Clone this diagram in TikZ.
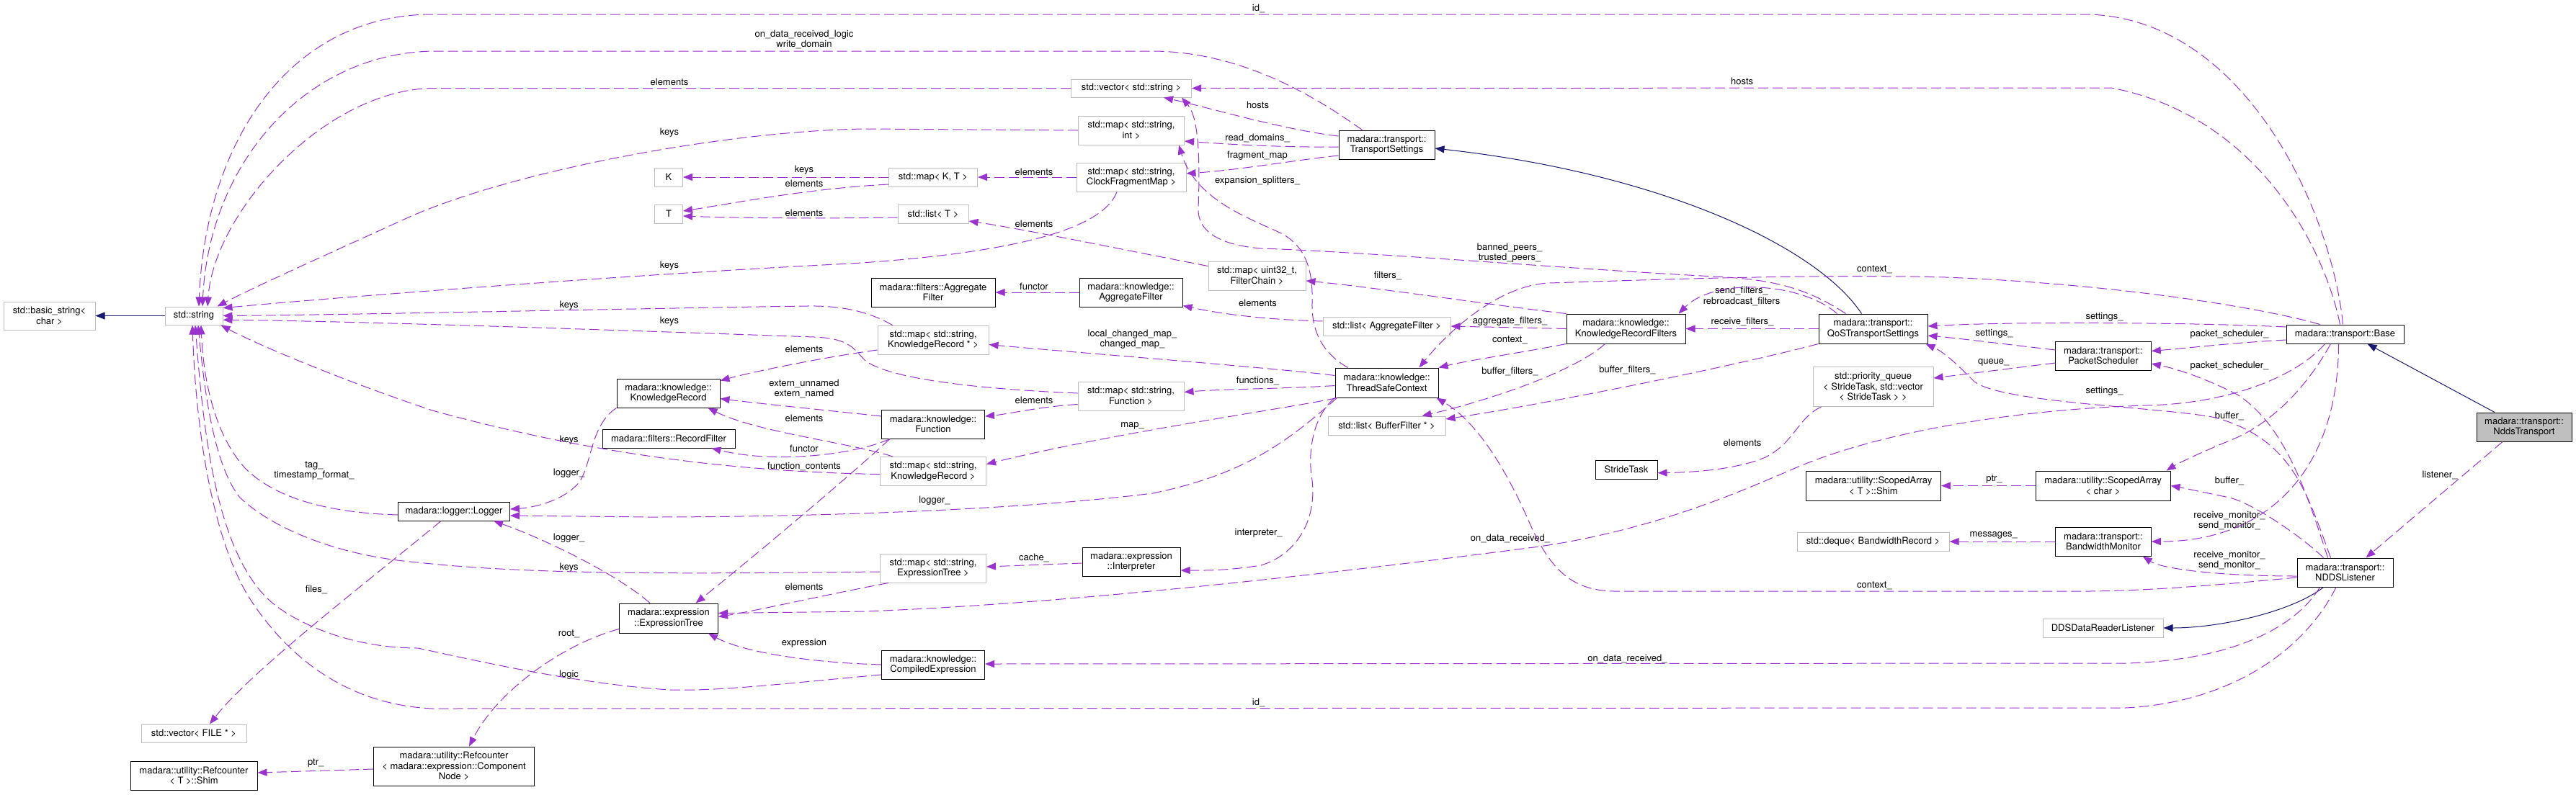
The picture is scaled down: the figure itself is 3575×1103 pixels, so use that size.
\documentclass[tikz,border=0pt]{standalone}
\usepackage{fontspec}
\setmainfont{TeX Gyre Heros}
\usetikzlibrary{arrows.meta}
\definecolor{usecol}{HTML}{9A32CD}
\definecolor{inhcol}{HTML}{191970}
\definecolor{extcol}{HTML}{BFBFBF}
\tikzset{
    box/.style={
        rectangle,
        draw=black,
        fill=white,
        line width=1pt,
        align=center,
        inner sep=0pt,
        font=\fontsize{13}{14.6}\selectfont
    },
    cls/.style={box},
    ext/.style={box,draw=extcol},
    hit/.style={box,fill=extcol},
    use/.style={
        draw=usecol,
        line width=1pt,
        dash pattern=on 14pt off 6pt,
        -{Triangle[length=13pt,width=10pt]}
    },
    inh/.style={
        draw=inhcol,
        line width=1pt,
        -{Triangle[length=13pt,width=10pt]}
    },
    lbl/.style={font=\fontsize{13}{14.6}\selectfont,align=center,inner sep=0pt}
}
% style, name, x, y, width, height, text
\newcommand{\klass}[7]{
    \node[#1,minimum width=#5pt,minimum height=#6pt] (#2) at (#3,#4) {#7};
}
\begin{document}
\begin{tikzpicture}[x=1pt,y=-1pt]
    \useasboundingbox (0,0) rectangle (3575,1103);

    % classes
    \klass{ext}{bstr}{68.5}{438.5}{127}{39}{std::basic\_string<\\char >}
    \klass{ext}{str}{269}{438.5}{80}{25}{std::string}
    \klass{ext}{vfile}{269}{1018.5}{146}{25}{std::vector< FILE * >}
    \klass{cls}{rshim}{269}{1077}{176}{40}{madara::utility::Refcounter\\< T >::Shim}
    \klass{cls}{logger}{630}{710}{155}{26}{madara::logger::Logger}
    \klass{cls}{rcomp}{630}{1064}{223}{54}{madara::utility::Refcounter\\< madara::expression::Component\\Node >}
    \klass{ext}{K}{928}{246}{39}{26}{K}
    \klass{ext}{T}{928}{297}{39}{26}{T}
    \klass{cls}{krec}{927.5}{546}{143}{40}{madara::knowledge::\\KnowledgeRecord}
    \klass{cls}{rfilt}{928}{609}{184}{26}{madara::filters::RecordFilter}
    \klass{cls}{etree}{928}{858.5}{137}{41}{madara::expression\\::ExpressionTree}
    \klass{ext}{mapkt}{1295}{246}{123}{26}{std::map< K, T >}
    \klass{ext}{listt}{1295}{297}{98}{26}{std::list< T >}
    \klass{cls}{aggf}{1295}{406}{172}{40}{madara::filters::Aggregate\\Filter}
    \klass{ext}{mapkrp}{1295}{472}{154}{40}{std::map< std::string,\\KnowledgeRecord * >}
    \klass{cls}{kfn}{1295}{589}{143}{40}{madara::knowledge::\\Function}
    \klass{ext}{mapkr}{1295}{654.5}{147}{40}{std::map< std::string,\\KnowledgeRecord >}
    \klass{ext}{mapet}{1295}{789}{147}{40}{std::map< std::string,\\ExpressionTree >}
    \klass{cls}{cexpr}{1295}{923}{143}{40}{madara::knowledge::\\CompiledExpression}
    \klass{ext}{vstr}{1570}{122.5}{167}{25}{std::vector< std::string >}
    \klass{ext}{mapsi}{1570}{181}{147}{40}{std::map< std::string,\\int >}
    \klass{ext}{cfmap}{1570}{246}{152}{40}{std::map< std::string,\\ClockFragmentMap >}
    \klass{cls}{kaggf}{1569.5}{406}{143}{40}{madara::knowledge::\\AggregateFilter}
    \klass{ext}{mapfn}{1569.5}{550}{147}{40}{std::map< std::string,\\Function >}
    \klass{cls}{interp}{1570}{780}{136}{40}{madara::expression\\::Interpreter}
    \klass{ext}{mapfc}{1744.5}{383}{135}{40}{std::map< uint32\_t,\\FilterChain >}
    \klass{cls}{tset}{1924.5}{201}{133}{40}{madara::transport::\\TransportSettings}
    \klass{ext}{laggf}{1924.5}{453}{177}{26}{std::list< AggregateFilter >}
    \klass{cls}{tsc}{1924.5}{531.5}{143}{41}{madara::knowledge::\\ThreadSafeContext}
    \klass{ext}{lbf}{1924.5}{591}{163}{26}{std::list< BufferFilter * >}
    \klass{cls}{krf}{2256.5}{456.5}{165}{41}{madara::knowledge::\\KnowledgeRecordFilters}
    \klass{cls}{stride}{2257}{652}{86}{26}{StrideTask}
    \klass{cls}{qos}{2599.5}{456.5}{151}{41}{madara::transport::\\QoSTransportSettings}
    \klass{ext}{pq}{2599.5}{537}{167}{55}{std::priority\_queue\\< StrideTask, std::vector\\< StrideTask > >}
    \klass{cls}{sashim}{2600}{674.5}{187}{41}{madara::utility::ScopedArray\\< T >::Shim}
    \klass{ext}{deque}{2599.5}{752}{211}{26}{std::deque< BandwidthRecord >}
    \klass{cls}{ps}{2919}{494}{132.5}{40}{madara::transport::\\PacketScheduler}
    \klass{cls}{sachar}{2918.5}{674.5}{187}{41}{madara::utility::ScopedArray\\< char >}
    \klass{cls}{bwm}{2919}{752}{132.5}{40}{madara::transport::\\BandwidthMonitor}
    \klass{ext}{dds}{2918.5}{872}{167}{26}{DDSDataReaderListener}
    \klass{cls}{base}{3254.5}{464}{163}{26}{madara::transport::Base}
    \klass{cls}{ndl}{3254.5}{795}{133}{40}{madara::transport::\\NDDSListener}
    \klass{hit}{ndds}{3503}{593}{132}{40}{madara::transport::\\NddsTransport}

    % edge labels
    \foreach \nm/\px/\py/\txt in {
        lida/1746.6/12/{id\_},
        lodl/1116/55/{on\_data\_received\_logic\\write\_domain},
        lela/929/114/{elements},
        lhoa/2417.6/112.5/{hosts},
        lhob/1745.5/146/{hosts},
        lkea/929/184/{keys},
        lrdm/1745/192/{read\_domains\_},
        lfrm/1745/216/{fragment\_map},
        lkeb/1116/236/{keys},
        lelb/1435/239/{elements},
        lexs/1745/251/{expansion\_splitters\_},
        lelc/1116/255/{elements},
        leld/1116/296/{elements},
        lele/1435/311/{elements},
        lban/2095/351/{banned\_peers\_\\trusted\_peers\_},
        lkec/929/369/{keys},
        lcoa/2601.4/374/{context\_},
        lfil/1926/383/{filters\_},
        lfua/1435/398/{functor},
        lsnd/2417/411.5/{send\_filters\_\\rebroadcast\_filters},
        lelf/1745.5/421/{elements},
        lked/789.6/424/{keys},
        lsea/2920.5/440/{settings\_},
        lkee/929/446/{keys},
        lagg/2095.5/446/{aggregate\_filters\_},
        lrcv/2418/447/{receive\_filters\_},
        lpsa/3094/464/{packet\_scheduler\_},
        lseb/2767.5/463.6/{settings\_},
        llcm/1571.5/471/{local\_changed\_map\_\\changed\_map\_},
        lcob/2095.5/472.5/{context\_},
        lelg/1116/485/{elements},
        lque/2766.7/503/{queue\_},
        lpsb/3094/508/{packet\_scheduler\_},
        lbfa/2095.5/516/{buffer\_filters\_},
        lbfb/2258.5/514/{buffer\_filters\_},
        lfns/1745.5/528.6/{functions\_},
        lext/1116/540/{extern\_unnamed\\extern\_named},
        lsec/2920.5/543/{settings\_},
        lelh/1435/556/{elements},
        lbua/3094/578/{buffer\_},
        leli/1116/581/{elements},
        lmap/1571.5/591/{map\_},
        lkef/789.6/611/{keys},
        lelj/2418/615/{elements},
        lfub/1116/623/{functor},
        lfco/1116/648/{function\_contents},
        ltag/436/653.5/{tag\_\\timestamp\_format\_},
        lloa/789.6/657/{logger\_},
        llis/3386/660/{listener\_},
        lpta/2767.5/666/{ptr\_},
        lbub/3094/667.5/{buffer\_},
        llob/1297/695/{logger\_},
        lrma/3094/723/{receive\_monitor\_\\send\_monitor\_},
        lint/1746.6/740/{interpreter\_},
        lmsg/2766.7/743.6/{messages\_},
        lloc/789.6/747/{logger\_},
        loda/2096/747.5/{on\_data\_received\_},
        lcac/1435/774.5/{cache\_},
        lrmb/3094/778/{receive\_monitor\_\\send\_monitor\_},
        lkeg/789.6/788/{keys},
        lcoc/2601.4/813/{context\_},
        lelk/1116/815/{elements},
        lfls/439/819/{files\_},
        lroo/789.6/880/{root\_},
        lexp/1116/893/{expression},
        lodb/2258.5/914.5/{on\_data\_received\_},
        llog/789.6/937/{logic},
        lidb/1746.6/976/{id\_},
        lptb/440/1060/{ptr\_}
    }
        \node[lbl] (\nm) at (\px,\py) {\txt};

    % members pointing at std::string
    \draw[use] ([xshift=-3]base.north) .. controls (3237,300) and (3120,28) .. (2900,20) -- (600,20) .. controls (400,20) and (285,200) .. ([xshift=7]str.north);
    \draw[use] ([xshift=-34]tset.north) .. controls (1820,130) and (1720,72) .. (1600,71) -- (600,71) .. controls (420,75) and (290,230) .. ([xshift=12]str.north);
    \draw[use] (vstr.west) -- (600,122.5) .. controls (450,125) and (297,295) .. ([xshift=19]str.north);
    \draw[use] (mapsi.west) -- (1200,179) .. controls (1000,182) and (700,240) .. (560,305) .. controls (450,355) and (350,400) .. ([xshift=-8]str.north east);
    \draw[use] ([xshift=-20]cfmap.south) .. controls (1530,320) and (1400,352) .. (1180,366) .. controls (900,380) and (500,410) .. (str.15);
    \draw[use] ([xshift=21]mapkrp.north west) .. controls (1215,438) and (1180,424) .. (1120,425) .. controls (900,428) and (500,437) .. (str.east);
    \draw[use] ([yshift=4]mapfn.west) .. controls (1350,540) and (1230,525) .. (1200,500) .. controls (1185,485) and (1180,470) .. (1130,468) .. controls (900,460) and (500,446) .. (str.-8);
    \draw[use] ([yshift=-4]mapkr.west) .. controls (1000,655) and (800,625) .. (600,570) .. controls (480,530) and (360,480) .. ([xshift=-3]str.south east);
    \draw[use] ([yshift=-5]logger.west) .. controls (450,712) and (380,690) .. (340,650) .. controls (295,600) and (282,520) .. ([xshift=10]str.south);
    \draw[use] ([yshift=-5]mapet.west) .. controls (1000,796) and (750,800) .. (580,781) .. controls (470,772) and (380,735) .. (333,691) .. controls (300,650) and (285,560) .. ([xshift=6]str.south);
    \draw[use] ([yshift=-14]cexpr.west) .. controls (1100,948) and (1000,960) .. (930,958) .. controls (800,950) and (650,915) .. (580,900) .. controls (480,900) and (400,860) .. (370,830) .. controls (300,760) and (282,600) .. ([xshift=2]str.south);
    \draw[use] ([xshift=-12.5]ndl.south) .. controls (3200,900) and (3100,975) .. (2950,983) -- (600,984) .. controls (470,978) and (390,900) .. (344,827) .. controls (295,745) and (272,600) .. ([xshift=-2]str.south);
    \draw[inh] (str.west) -- (bstr.east);

    % containers
    \draw[use] (mapkt.west) -- (K.east);
    \draw[use] ([yshift=-10]mapkt.west) .. controls (1120,262) and (1020,282) .. ([yshift=4]T.east);
    \draw[use] ([yshift=-5]listt.west) .. controls (1100,304) and (1000,302) .. ([yshift=-3]T.east);
    \draw[use] (cfmap.west) -- (mapkt.east);
    \draw[use] ([yshift=-7]mapfc.north west) .. controls (1550,345) and (1420,318) .. ([yshift=-10]listt.east);
    \draw[use] (krf.north west) .. controls (2080,425) and (1900,398) .. ([yshift=-7]mapfc.east);
    \draw[use] (kaggf.west) -- (aggf.east);
    \draw[use] ([yshift=7]laggf.west) .. controls (1760,444) and (1700,437) .. ([yshift=2]kaggf.south east);
    \draw[use] (krf.west) -- (laggf.east);
    \draw[use] (krf.south west) .. controls (2110,490) and (2040,500) .. (tsc.north east);
    \draw[use] ([xshift=-29]krf.south) .. controls (2180,520) and (2050,560) .. ([xshift=49]lbf.north);

    % QoS settings
    \draw[use] (qos.south west) .. controls (2400,510) and (2150,560) .. ([yshift=9]lbf.east);
    \draw[use] (qos.west) -- (krf.east);
    \draw[use] ([xshift=-50]qos.north) .. controls (2500,392) and (2380,385) .. ([xshift=-10]krf.north east);
    \draw[inh] ([xshift=-16]qos.north) .. controls (2520,340) and (2300,240) .. ([yshift=-5]tset.east);
    \draw[use] ([xshift=-38]qos.north) .. controls (2500,395) and (2450,388) .. (2380,384) .. controls (2200,375) and (1900,350) .. (1750,345) .. controls (1690,340) and (1662,320) .. (1663,290) .. controls (1665,230) and (1665,165) .. ([xshift=-14]vstr.south east);
    \draw[use] ([yshift=8]ps.west) .. controls (2800,480) and (2720,470) .. ([yshift=-9.5]qos.east);
    \draw[use] ([yshift=-10]ps.west) -- ([yshift=12]pq.east);
    \draw[use] ([xshift=-72]pq.south) .. controls (2495,580) and (2490,615) .. (2450,635) .. controls (2410,652) and (2350,656) .. ([yshift=-4.7]stride.east);
    \draw[use] (sachar.west) -- (sashim.east);
    \draw[use] (bwm.west) -- (deque.east);

    % transport settings
    \draw[use] ([yshift=12]tset.west) .. controls (1780,180) and (1680,150) .. ([xshift=45]vstr.south);
    \draw[use] ([yshift=-3]tset.west) .. controls (1780,205) and (1700,200) .. ([yshift=-15]mapsi.east);
    \draw[use] ([yshift=-15]tset.west) .. controls (1800,222) and (1720,236) .. ([yshift=5]cfmap.east);

    % thread safe context
    \draw[use] ([xshift=3]tsc.south west) .. controls (1780,620) and (1720,660) .. (1600,685) .. controls (1400,710) and (1100,718) .. (900,718) -- ([yshift=-6]logger.east);
    \draw[use] ([xshift=3]tsc.south west) .. controls (1800,565) and (1550,600) .. ([yshift=10]mapkr.east);
    \draw[use] (tsc.south west) .. controls (1825,575) and (1815,620) .. (1820,660) .. controls (1830,720) and (1800,770) .. (1750,785) .. controls (1700,793) and (1670,792) .. ([yshift=-12]interp.east);
    \draw[use] ([yshift=-2]interp.west) -- ([yshift=2]mapet.east);
    \draw[use] ([yshift=-4]tsc.west) .. controls (1780,540) and (1700,540) .. ([yshift=5.5]mapfn.east);
    \draw[use] ([yshift=10]tsc.west) .. controls (1780,512) and (1500,490) .. ([yshift=-6.6]mapkrp.east);
    \draw[use] ([xshift=-54]tsc.north) .. controls (1835,490) and (1820,460) .. (1821,420) .. controls (1822,380) and (1815,345) .. (1780,325) .. controls (1740,305) and (1660,280) .. ([xshift=-8]mapsi.south east);

    % knowledge and expressions
    \draw[use] ([yshift=11]kfn.west) .. controls (1150,570) and (1050,560) .. ([yshift=-7.6]krec.east);
    \draw[use] ([yshift=-14]mapkrp.west) .. controls (1150,495) and (1050,515) .. ([yshift=17.4]krec.east);
    \draw[use] ([xshift=-56]mapkr.north) .. controls (1180,615) and (1050,600) .. ([xshift=55]krec.south);
    \draw[use] ([xshift=12]kfn.south west) .. controls (1190,630) and (1080,645) .. ([xshift=-33]rfilt.south east);
    \draw[use] ([xshift=12]kfn.south west) .. controls (1180,660) and (1050,770) .. ([xshift=37.5]etree.north);
    \draw[use] ([yshift=-11.5]mapfn.west) .. controls (1440,565) and (1400,575) .. ([yshift=11]kfn.east);
    \draw[use] (cexpr.west) .. controls (1120,920) and (1030,905) .. ([xshift=55]etree.south);
    \draw[use] ([xshift=-62]mapet.south) .. controls (1150,825) and (1050,848) .. ([yshift=2]etree.east);
    \draw[use] ([yshift=-15]etree.west) .. controls (780,895) and (690,960) .. ([xshift=21]rcomp.north);
    \draw[use] ([yshift=-4]rcomp.west) -- ([yshift=4]rshim.east);
    \draw[use] ([xshift=-26]etree.north) .. controls (860,800) and (760,750) .. ([xshift=55]logger.south);
    \draw[use] (krec.south west) .. controls (820,590) and (822,640) .. (805,668) .. controls (785,695) and (740,705) .. ([yshift=3]logger.east);
    \draw[use] ([xshift=-18]logger.south) .. controls (520,800) and (350,930) .. ([xshift=22]vfile.north);

    % transport base
    \draw[use] ([xshift=-7]base.north) .. controls (3225,340) and (3130,160) .. (2930,122) -- (vstr.east);
    \draw[use] ([xshift=-35]base.north) .. controls (3150,430) and (2950,395) .. (2700,385) .. controls (2500,380) and (2250,390) .. (2150,393) .. controls (2080,396) and (2010,460) .. ([xshift=45]tsc.north);
    \draw[use] ([yshift=10]base.west) .. controls (3050,448) and (2800,446) .. ([yshift=3.5]qos.east);
    \draw[use] ([yshift=-8]base.west) .. controls (3100,476) and (3050,482) .. ([yshift=6.5]ps.east);
    \draw[use] ([xshift=-20]base.south) .. controls (3200,540) and (3150,590) .. (3094,612) .. controls (3050,630) and (3020,645) .. ([xshift=-6]sachar.north east);
    \draw[use] ([xshift=-9]base.south) .. controls (3245,650) and (3150,752) .. (bwm.east);
    \draw[use] ([xshift=-28]base.south) .. controls (3190,520) and (3100,560) .. (2980,563) .. controls (2800,568) and (2600,600) .. (2480,655) .. controls (2420,680) and (2300,735) .. (2136,759) .. controls (1900,790) and (1500,838) .. (1200,849) -- ([yshift=7]etree.east);

    % listener
    \draw[use] ([xshift=-20]ndl.north) .. controls (3200,680) and (3180,610) .. (3075,580) .. controls (3000,565) and (2780,560) .. (2740,530) .. controls (2720,510) and (2700,490) .. ([xshift=-3]qos.south east);
    \draw[use] ([xshift=-24]ndl.north) .. controls (3200,680) and (3170,590) .. (3105,548) .. controls (3060,525) and (3020,512) .. ([yshift=-11]ps.east);
    \draw[use] ([xshift=-30]ndl.north) .. controls (3200,750) and (3130,700) .. (3094,691) .. controls (3060,683) .. (sachar.east);
    \draw[use] ([yshift=-5]ndl.west) .. controls (3080,800) and (3000,790) .. ([xshift=-12]bwm.south east);
    \draw[inh] ([xshift=-30]ndl.south) .. controls (3180,850) and (3080,872) .. (dds.east);
    \draw[use] ([yshift=-7]ndl.west) .. controls (3100,810) and (3000,820) .. (2900,821) -- (2240,821) .. controls (2180,820) and (2150,790) .. (2120,720) .. controls (2080,630) and (2040,580) .. ([xshift=-3]tsc.south east);
    \draw[use] ([xshift=-35]ndl.south) .. controls (3180,880) and (3080,918) .. (2950,921) -- ([yshift=1]cexpr.east);

    % the documented class
    \draw[inh] ([xshift=-41]ndds.north) -- ([xshift=31]base.south);
    \draw[use] ([xshift=-30]ndds.south) -- ([xshift=29]ndl.north);
\end{tikzpicture}
\end{document}
